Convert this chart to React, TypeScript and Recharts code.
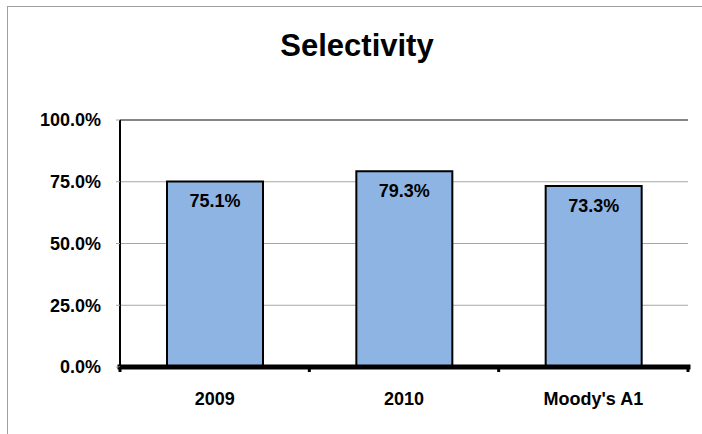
import {
  BarChart,
  Bar,
  XAxis,
  YAxis,
  CartesianGrid,
  LabelList,
  ReferenceLine,
} from 'recharts'

const categories = ['2009', '2010', "Moody's A1"]
const selectivity = [0.751, 0.793, 0.733]
const yTicks = [0, 0.25, 0.5, 0.75, 1]

const data = categories.map((name, i) => ({ name, value: selectivity[i] }))

const FONT = '"Liberation Sans", Arial, sans-serif'
const pct = (v: number) => `${(v * 100).toFixed(1)}%`

function CategoryTick(props: any) {
  const { x, y, payload, index, visibleTicksCount } = props
  const half = payload.offset || 0
  const axisY = y - 25
  const isLast = index === visibleTicksCount - 1
  return (
    <g>
      <line x1={x - half} x2={x - half} y1={axisY} y2={axisY + 5} stroke="#000" strokeWidth={3} />
      {isLast && (
        <line x1={x + half} x2={x + half} y1={axisY} y2={axisY + 5} stroke="#000" strokeWidth={3} />
      )}
      <text
        x={x}
        y={y}
        dy="0.71em"
        textAnchor="middle"
        fontFamily={FONT}
        fontSize={18}
        fontWeight="bold"
        fill="#000"
      >
        {payload.value}
      </text>
    </g>
  )
}

export default function App() {
  return (
    <div
      style={{
        position: 'absolute',
        left: 0,
        top: 0,
        width: 702,
        height: 434,
        overflow: 'hidden',
        background: '#fff',
        fontFamily: FONT,
      }}
    >
      <div
        style={{
          position: 'absolute',
          left: 7,
          top: 6,
          width: 800,
          height: 600,
          borderLeft: '1px solid #a0a0a0',
          borderTop: '1px solid #a0a0a0',
        }}
      />
      <div
        style={{
          position: 'absolute',
          left: 0,
          top: 30,
          width: 714,
          textAlign: 'center',
          fontSize: 31,
          lineHeight: '31px',
          fontWeight: 'bold',
          color: '#000',
        }}
      >
        Selectivity
      </div>
      <div style={{ position: 'absolute', left: 0, top: 0 }}>
        <BarChart
          width={702}
          height={434}
          data={data}
          margin={{ top: 120, right: 14, bottom: 37, left: 0 }}
        >
          <CartesianGrid vertical={false} stroke="#a6a6a6" strokeWidth={1} />
          <XAxis
            dataKey="name"
            height={30}
            axisLine={{ stroke: '#000', strokeWidth: 5, strokeLinecap: 'square' }}
            tickLine={false}
            tickSize={0}
            tickMargin={25}
            interval={0}
            tick={<CategoryTick />}
          />
          <YAxis
            width={120}
            domain={[0, 1]}
            ticks={yTicks}
            tickFormatter={pct}
            axisLine={{ stroke: '#000', strokeWidth: 2 }}
            tickLine={{ stroke: '#a6a6a6' }}
            tickSize={4}
            tickMargin={15}
            tick={{ fill: '#000', fontSize: 18, fontWeight: 'bold', fontFamily: FONT }}
          />
          <YAxis
            yAxisId="right"
            orientation="right"
            width={0}
            domain={[0, 1]}
            tick={false}
            tickLine={false}
            axisLine={{ stroke: '#868686', strokeWidth: 2 }}
          />
          <ReferenceLine y={1} stroke="#868686" strokeWidth={2} />
          <Bar
            dataKey="value"
            fill="#8eb4e3"
            stroke="#000"
            strokeWidth={2}
            barSize={96}
            isAnimationActive={false}
          >
            <LabelList
              dataKey="value"
              position="insideTop"
              offset={13}
              formatter={(v: any) => pct(Number(v))}
              fill="#000"
              fontSize={18}
              fontWeight="bold"
              fontFamily={FONT}
            />
          </Bar>
        </BarChart>
      </div>
    </div>
  )
}
